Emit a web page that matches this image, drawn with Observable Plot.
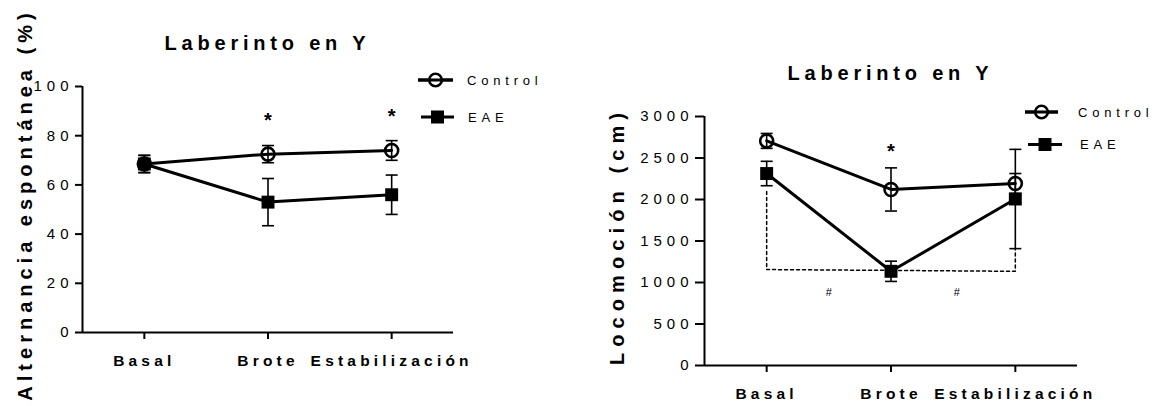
<!DOCTYPE html>
<html><head><meta charset="utf-8">
<script src="https://cdn.jsdelivr.net/npm/d3@7"></script>
<script src="https://cdn.jsdelivr.net/npm/@observablehq/plot@0.6"></script>
<style>
html,body{margin:0;padding:0;background:#fff;}
body{width:1156px;height:406px;position:relative;overflow:hidden;font-family:"Liberation Sans",Arial,sans-serif;color:#000;}
.panel{position:absolute;top:0;}
.panel svg{overflow:visible;}
#overlay{position:absolute;left:0;top:0;pointer-events:none;}
svg text{font-family:"Liberation Sans",Arial,sans-serif;}
g[aria-label="y-axis tick label"]{letter-spacing:5px;}
g[aria-label="x-axis tick label"]{letter-spacing:4.2px;font-weight:bold;}
</style>
</head><body>
<div id="left" class="panel" style="left:0px"></div>
<div id="right" class="panel" style="left:560px"></div>
<svg id="overlay" width="1156" height="406"></svg>
<script>
// ---- data ----
const phases = ["Basal", "Brote", "Estabilización"];
const seriesNames = ["Control", "EAE"];
const chartTitle = "Laberinto en Y";

// Alternancia espontánea (%)
const altTicks = [0, 20, 40, 60, 80, 100];
const altControlMean = [68.5, 72.5, 74.0];
const altControlSem = [3.5, 3.5, 4.0];
const altEaeMean = [68.5, 53.0, 56.0];
const altEaeSem = [3.5, 9.6, 8.0];
const altStarPhase = [1, 2];
const altStarY = [88, 90];

// Locomoción (cm)
const locTicks = [0, 500, 1000, 1500, 2000, 2500, 3000];
const locControlMean = [2706, 2121, 2193];
const locControlSem = [90, 260, 120];
const locEaeMean = [2313, 1135, 2006];
const locEaeSem = [147, 122, 598];
const locStarPhase = [1];
const locStarY = [2637];
const locBracketX = [0, 0, 2, 2];
const locBracketY = [2097, 1156, 1135, 1400];
const locHashX = [0.5, 1.53];
const locHashY = [875, 875];

// ---- drawing ----
const cap = {draw(ctx, size) { const w = Math.sqrt(size / Math.PI); ctx.moveTo(-w, 0); ctx.lineTo(w, 0); }};

function errorMarks(rows) {
  return [
    Plot.ruleX(rows, {x: "i", y1: d => d.v - d.e, y2: d => d.v + d.e, stroke: "black", strokeWidth: 1.6}),
    Plot.dot(rows, {x: "i", y: d => d.v - d.e, symbol: cap, r: 6, stroke: "black", strokeWidth: 1.6, fill: "none"}),
    Plot.dot(rows, {x: "i", y: d => d.v + d.e, symbol: cap, r: 6, stroke: "black", strokeWidth: 1.6, fill: "none"})
  ];
}

function makePanel(cfg) {
  const ctrlRows = phases.map((p, i) => ({i, v: cfg.ctrl[i], e: cfg.ctrlSem[i]}));
  const eaeRows = phases.map((p, i) => ({i, v: cfg.eae[i], e: cfg.eaeSem[i]}));
  const stars = cfg.starPhase.map((p, k) => ({x: p, y: cfg.starY[k]}));
  return Plot.plot({
    width: cfg.width, height: 406,
    marginLeft: cfg.ml, marginRight: cfg.mr, marginTop: cfg.mt, marginBottom: cfg.mb,
    x: {type: "linear", domain: [-0.5, 2.5]},
    y: {domain: cfg.yDomain},
    style: {background: "transparent", fontFamily: "Liberation Sans, Arial, sans-serif", color: "black"},
    marks: [
      Plot.axisX({ticks: [0, 1, 2], tickFormat: i => phases[i], tickSize: 7, tickPadding: 15, fontSize: 15.5, fontWeight: "bold", strokeWidth: 2, label: null}),
      Plot.axisY({ticks: cfg.yTicks, tickFormat: d => String(d), tickSize: cfg.yTickSize, tickPadding: 2, fontSize: 15, strokeWidth: 2, label: null}),
      Plot.ruleY([cfg.yDomain[0]], {stroke: "black", strokeWidth: 2}),
      Plot.ruleX([-0.5], {stroke: "black", strokeWidth: 2}),
      ...(cfg.extra || []),
      Plot.dot(ctrlRows, {x: "i", y: "v", r: 6.5, fill: "white", stroke: "black", strokeWidth: 2.6}),
      Plot.line(ctrlRows, {x: "i", y: "v", stroke: "black", strokeWidth: 3}),
      ...errorMarks(ctrlRows),
      Plot.line(eaeRows, {x: "i", y: "v", stroke: "black", strokeWidth: 3}),
      ...errorMarks(eaeRows),
      Plot.dot(eaeRows, {x: "i", y: "v", symbol: "square", r: 7.3, fill: "black"}),
      Plot.text(stars, {x: "x", y: "y", text: () => "*", fontSize: 20, fontWeight: "bold", dy: 5})
    ]
  });
}

const bracket = locBracketX.map((x, k) => ({x, y: locBracketY[k]}));
const hashes = locHashX.map((x, k) => ({x, y: locHashY[k]}));

document.getElementById("left").appendChild(makePanel({
  width: 560, ml: 82, mr: 107, mt: 86, mb: 74,
  yDomain: [0, 100], yTicks: altTicks, yTickSize: 7,
  ctrl: altControlMean, ctrlSem: altControlSem, eae: altEaeMean, eaeSem: altEaeSem,
  starPhase: altStarPhase, starY: altStarY
}));

document.getElementById("right").appendChild(makePanel({
  width: 596, ml: 144, mr: 79, mt: 116, mb: 41,
  yDomain: [0, 3000], yTicks: locTicks, yTickSize: 9,
  ctrl: locControlMean, ctrlSem: locControlSem, eae: locEaeMean, eaeSem: locEaeSem,
  starPhase: locStarPhase, starY: locStarY,
  extra: [
    Plot.line(bracket, {x: "x", y: "y", stroke: "black", strokeWidth: 1.5, strokeDasharray: "3,3"}),
    Plot.text(hashes, {x: "x", y: "y", text: () => "#", fontSize: 11})
  ]
}));

// ---- titles, axis titles, legends (overlay) ----
const ov = d3.select("#overlay");
function txt(x, y, s, size, ls, weight, anchor, rot) {
  return ov.append("text").attr("x", 0).attr("y", 0)
    .attr("transform", `translate(${x},${y})` + (rot ? ` rotate(${rot})` : ""))
    .attr("font-size", size).attr("font-weight", weight).attr("letter-spacing", ls + "px")
    .attr("text-anchor", anchor).attr("dominant-baseline", "central").text(s);
}
// titles
txt(265 + 2.4, 43, chartTitle, 20, 4.8, "bold", "middle");
txt(888 + 2.4, 73, chartTitle, 20, 4.8, "bold", "middle");
// y titles
txt(24.5, 207 - 2.5, "Alternancia espontánea (%)", 20, 5, "bold", "middle", -90);
txt(616.7, 239 - 3, "Locomoción (cm)", 20, 6.1, "bold", "middle", -90);

function legendItem(x0, x1, y, kind, label, tx) {
  ov.append("line").attr("x1", x0).attr("x2", x1).attr("y1", y).attr("y2", y).attr("stroke", "black").attr("stroke-width", 3);
  const cx = (x0 + x1) / 2;
  if (kind === 0) {
    ov.append("circle").attr("cx", cx).attr("cy", y).attr("r", 6.3).attr("fill", "white").attr("stroke", "black").attr("stroke-width", 2.6);
    ov.append("line").attr("x1", x0).attr("x2", x1).attr("y1", y).attr("y2", y).attr("stroke", "black").attr("stroke-width", 3);
  } else {
    ov.append("rect").attr("x", cx - 6.5).attr("y", y - 6.5).attr("width", 13).attr("height", 13).attr("fill", "black");
  }
  txt(tx, y, label, 13, 4.8, "normal", "start");
}
legendItem(418, 453, 80, 0, seriesNames[0], 467);
legendItem(421, 454, 117, 1, seriesNames[1], 468);
legendItem(1025, 1058, 112, 0, seriesNames[0], 1078);
legendItem(1028, 1062, 144.5, 1, seriesNames[1], 1080);
</script>
</body></html>
